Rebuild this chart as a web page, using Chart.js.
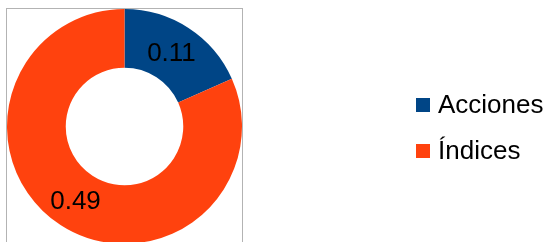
<!DOCTYPE html>
<html>
<head>
<meta charset="utf-8">
<script src="https://cdn.jsdelivr.net/npm/chart.js@4"></script>
<style>
    html, body { margin: 0; padding: 0; background: #fff; overflow: hidden; }
    #wrap { position: relative; width: 547px; height: 242px; overflow: hidden; }
    #pieChart { position: absolute; left: 0; top: 0; }
    #legend { position: absolute; left: 416px; top: 90px; font-family: "Liberation Sans", Arial, sans-serif; font-size: 26px; color: #000; }
    #legend .item { display: flex; align-items: center; height: 29px; margin-bottom: 17px; }
    #legend .box { width: 14px; height: 14px; margin-right: 8px; }
</style>
</head>
<body>
<div id="wrap">
    <canvas id="pieChart" width="547" height="260"></canvas>
    <div id="legend"></div>
</div>
<script>
const categories = ['Acciones', 'Índices'];
const values = [0.11, 0.49];
const sliceColors = ['#004586', '#ff420e'];

// draws the value labels in the middle of each slice
const sliceLabels = {
    id: 'sliceLabels',
    afterDatasetsDraw(chart) {
        const ctx = chart.ctx;
        const meta = chart.getDatasetMeta(0);
        ctx.save();
        ctx.font = '26px "Liberation Sans", Arial, sans-serif';
        ctx.fillStyle = '#000';
        ctx.textAlign = 'center';
        ctx.textBaseline = 'middle';
        meta.data.forEach((arc, i) => {
            const pos = arc.getCenterPoint();
            ctx.fillText(String(chart.data.datasets[0].data[i]), pos.x - 1, pos.y + 1);
        });
        ctx.restore();
    }
};

// grey frame around the plot area
const plotFrame = {
    id: 'plotFrame',
    beforeDraw(chart) {
        const { ctx, chartArea } = chart;
        ctx.save();
        ctx.strokeStyle = '#b3b3b3';
        ctx.lineWidth = 1;
        ctx.strokeRect(chartArea.left - 0.5, chartArea.top - 0.5, chartArea.width + 1, chartArea.height + 1);
        ctx.restore();
    }
};

const ctx = document.getElementById('pieChart').getContext('2d');
new Chart(ctx, {
    type: 'doughnut',
    data: {
        labels: categories,
        datasets: [{
            data: values,
            backgroundColor: sliceColors,
            borderWidth: 0
        }]
    },
    options: {
        responsive: false,
        animation: false,
        cutout: '50%',
        layout: { padding: { left: 7, top: 9, right: 305, bottom: 16 } },
        plugins: {
            legend: { display: false },
            tooltip: { enabled: false }
        }
    },
    plugins: [sliceLabels, plotFrame]
});

// legend built from the same arrays
const legend = document.getElementById('legend');
categories.forEach((name, i) => {
    const item = document.createElement('div');
    item.className = 'item';
    item.innerHTML = `<span class="box" style="background:${sliceColors[i]}"></span><span>${name}</span>`;
    legend.appendChild(item);
});
</script>
</body>
</html>
